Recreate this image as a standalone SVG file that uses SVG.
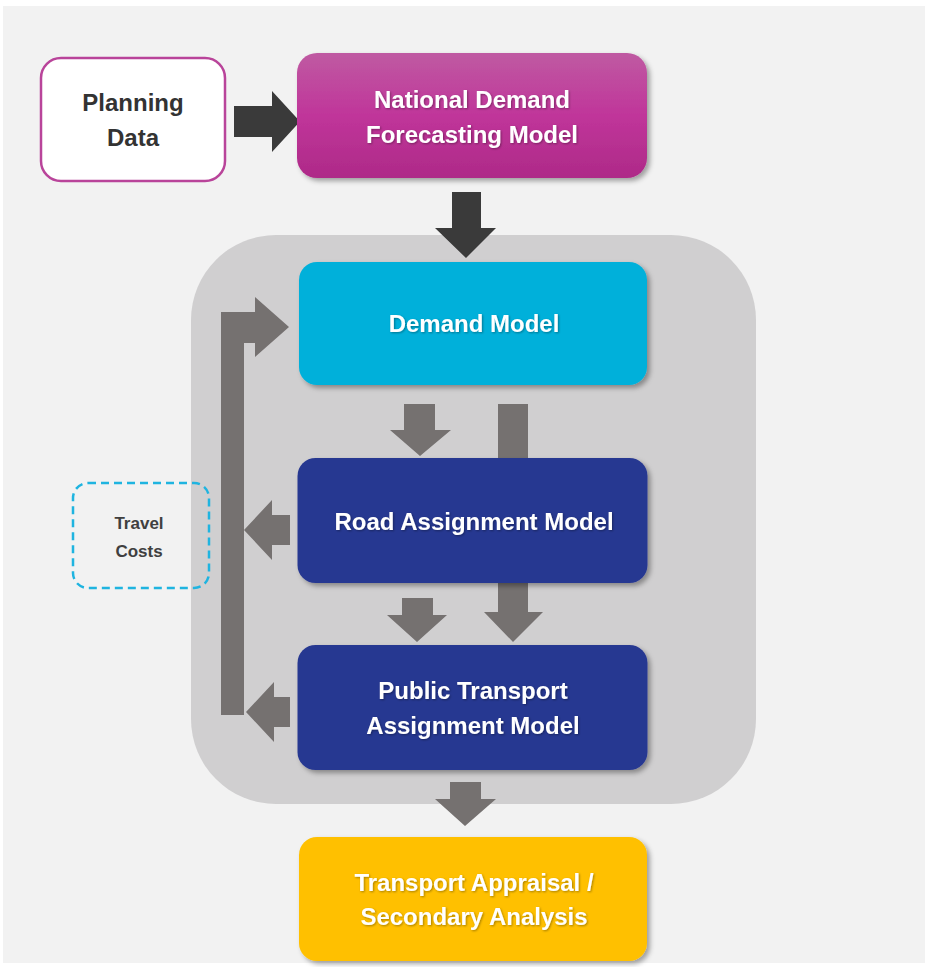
<svg xmlns="http://www.w3.org/2000/svg" width="926" height="967" viewBox="0 0 926 967">
  <defs>
    <linearGradient id="gMag" x1="0" y1="0" x2="0" y2="1">
      <stop offset="0" stop-color="#bf5aa2"/>
      <stop offset="0.5" stop-color="#c0359a"/>
      <stop offset="1" stop-color="#ae2a88"/>
    </linearGradient>
    <filter id="sh" x="-10%" y="-10%" width="125%" height="130%">
      <feDropShadow dx="3" dy="3" stdDeviation="2.5" flood-color="#000" flood-opacity="0.35"/>
    </filter>
    <filter id="tsh" x="-5%" y="-20%" width="110%" height="150%">
      <feDropShadow dx="1" dy="1" stdDeviation="0.8" flood-color="#000" flood-opacity="0.35"/>
    </filter>
  </defs>
  <style>
    .t { font-family: "Liberation Sans", Arial, sans-serif; font-weight: bold; font-size: 24px; text-anchor: middle; }
    .w { fill: #ffffff; }
    .dk { fill: #333333; }
    .darrow { fill: #3a3a3a; }
    .garrow { fill: #757170; }
    .node { filter: url(#sh); }
  </style>
  <rect x="0" y="0" width="926" height="967" fill="#ffffff"/>
  <rect x="3" y="6" width="922" height="957" fill="#f2f2f2"/>

  <g id="container">
    <rect x="191" y="235" width="565" height="569" rx="85" fill="#d0cfd0"/>
  </g>

  <g id="connectors">
    <polygon class="darrow" points="234,106 272,106 272,91 300,121.5 272,152 272,137 234,137"/>
    <polygon class="darrow" points="452,192 481,192 481,228 496,228 466,258 435,228 452,228"/>
    <polygon class="garrow" points="404,404 435,404 435,430 451,430 420,456 390,430 404,430"/>
    <polygon class="garrow" points="498,404 528,404 528,612 543,612 513,642 484,612 498,612"/>
    <polygon class="garrow" points="402,598 433,598 433,615 447,615 417,642 387,615 402,615"/>
    <polygon class="garrow" points="221,715 221,312 255,312 255,297 289,327 255,357 255,343 244,343 244,715"/>
    <polygon class="garrow" points="290,515 272,515 272,500 244,530 272,560 272,545 290,545"/>
    <polygon class="garrow" points="290,697 274,697 274,682 246,712 274,742 274,727 290,727"/>
    <polygon class="garrow" points="450,782 481,782 481,799 496,799 465,826 435,799 450,799"/>
  </g>

  <g id="planning-data">
    <rect x="41" y="58" width="184" height="123" rx="20" fill="#ffffff" stroke="#b9449a" stroke-width="2.5"/>
    <text class="t dk" x="133" y="111">Planning</text>
    <text class="t dk" x="133" y="146">Data</text>
  </g>

  <g id="national-demand">
    <rect class="node" x="297" y="53" width="350" height="125" rx="20" fill="url(#gMag)"/>
    <text class="t w" x="472" y="108" filter="url(#tsh)">National Demand</text>
    <text class="t w" x="472" y="143" filter="url(#tsh)">Forecasting Model</text>
  </g>

  <g id="demand-model">
    <rect class="node" x="299" y="262" width="348" height="123" rx="18" fill="#00b0da"/>
    <text class="t w" x="474" y="332" filter="url(#tsh)">Demand Model</text>
  </g>

  <g id="road-assignment">
    <rect class="node" x="297.5" y="458" width="350" height="125" rx="18" fill="#283891"/>
    <text class="t w" x="474" y="530" filter="url(#tsh)">Road Assignment Model</text>
  </g>

  <g id="pt-assignment">
    <rect class="node" x="297.5" y="645" width="350" height="125" rx="18" fill="#283891"/>
    <text class="t w" x="473" y="699" filter="url(#tsh)">Public Transport</text>
    <text class="t w" x="473" y="734" filter="url(#tsh)">Assignment Model</text>
  </g>

  <g id="transport-appraisal">
    <rect class="node" x="299" y="837" width="348" height="124" rx="18" fill="#ffc000"/>
    <text class="t w" x="474" y="891" filter="url(#tsh)">Transport Appraisal /</text>
    <text class="t w" x="474" y="925" filter="url(#tsh)">Secondary Analysis</text>
  </g>

  <g id="travel-costs">
    <rect x="73" y="483" width="136" height="105" rx="15" fill="none" stroke="#1fb4e0" stroke-width="2.5" stroke-dasharray="8 5"/>
    <text class="t" x="139" y="529" font-size="17" fill="#404040" style="font-size:17px">Travel</text>
    <text class="t" x="139" y="557" font-size="17" fill="#404040" style="font-size:17px">Costs</text>
  </g>
</svg>
